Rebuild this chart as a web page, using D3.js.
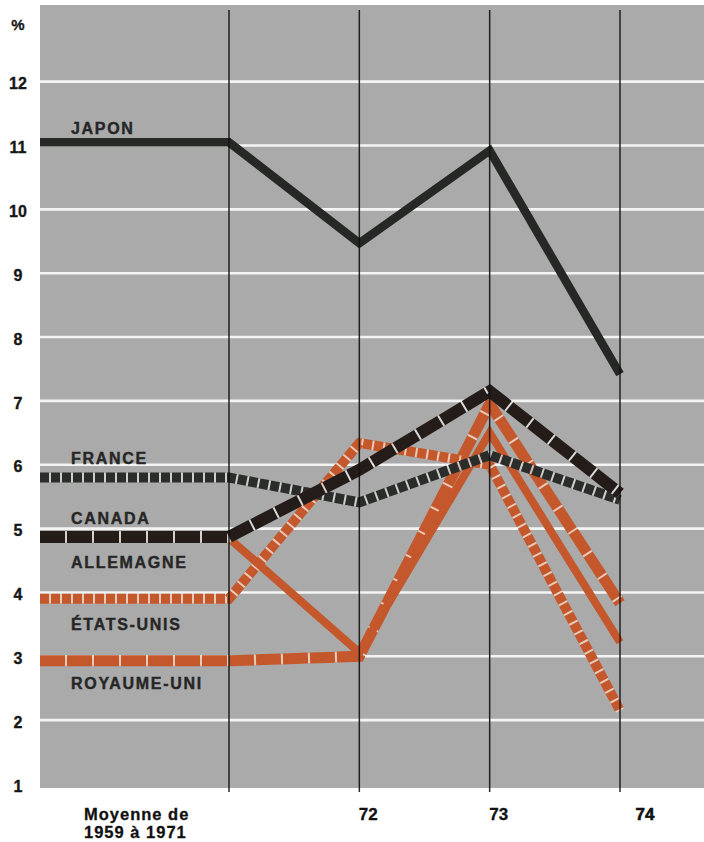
<!DOCTYPE html>
<html>
<head>
<meta charset="utf-8">
<script src="https://cdn.jsdelivr.net/npm/d3@7"></script>
<style>
  html, body { margin: 0; padding: 0; background: #ffffff; }
  svg { display: block; }
  text { font-family: "Liberation Sans", Arial, Helvetica, sans-serif; font-weight: bold; }
</style>
</head>
<body>
<svg id="chart" width="704" height="842"></svg>
<script>
// ---- data ----
const periods = ["Moyenne de 1959 à 1971", "72", "73", "74"];
const periodLines = [["Moyenne de", "1959 à 1971"], ["72"], ["73"], ["74"]];
const periodYears = [1971, 1972, 1973, 1974];
const yTicks = [1, 2, 3, 4, 5, 6, 7, 8, 9, 10, 11, 12];
const countries = ["JAPON", "FRANCE", "CANADA", "ALLEMAGNE", "ÉTATS-UNIS", "ROYAUME-UNI"];
const japon      = [11.05, 9.47, 10.92, 7.42];
const france     = [5.80, 5.41, 6.15, 5.45];
const canada     = [4.87, 5.92, 7.15, 5.55];
const allemagne  = [4.85, 3.06, 6.50, 3.22];
const etatsUnis  = [3.90, 6.34, 6.00, 2.15];
const royaumeUni = [2.93, 3.00, 6.95, 3.83];

// ---- styles ----
const ORANGE = "#c4572c", DARK = "#262826";
const styles = {
  "JAPON":       { color: DARK,      width: 8.5, dash: null,   under: null, labelDy: -14, order: 5 },
  "FRANCE":      { color: "#2b2d2b", width: 10, dash: "9,2",   under: "rgba(215,215,215,0.8)", labelDy: -19, order: 3 },
  "CANADA":      { color: "#241c18", width: 12, dash: "25,2",  under: "rgba(225,225,225,0.85)", labelDy: -19, order: 4 },
  "ALLEMAGNE":   { color: ORANGE,    width: 8,  dash: null,    under: null, labelDy: 24, order: 2 },
  "ÉTATS-UNIS":  { color: ORANGE,    width: 10, dash: "9,2",   under: "rgba(240,205,185,0.9)", labelDy: 25, order: 1 },
  "ROYAUME-UNI": { color: ORANGE,    width: 11, dash: "25,2",  under: "rgba(240,205,185,0.9)", labelDy: 22, order: 0 }
};
const seriesValues = { "JAPON": japon, "FRANCE": france, "CANADA": canada,
  "ALLEMAGNE": allemagne, "ÉTATS-UNIS": etatsUnis, "ROYAUME-UNI": royaumeUni };

// ---- scales ----
const svg = d3.select("#chart");
const x = d3.scaleLinear().domain([1971, 1974]).range([229, 620]);
const xLeft = x.invert(40), xRight = x.invert(704);
const y = d3.scaleLinear().domain([1, 13.2]).range([784, 5]);

// background
svg.append("rect")
  .attr("x", x(xLeft)).attr("y", y(13.2))
  .attr("width", x(xRight) - x(xLeft)).attr("height", y(1) - y(13.2) + 4)
  .attr("fill", "#a9aaa9");

// horizontal white gridlines
svg.append("g").selectAll("line")
  .data(yTicks.filter(d => d > 1))
  .join("line")
  .attr("x1", x(xLeft)).attr("x2", x(xRight))
  .attr("y1", d => y(d)).attr("y2", d => y(d))
  .attr("stroke", "#f4f4f4").attr("stroke-width", 2.6);

// y axis labels
const yAxis = d3.axisLeft(y).tickValues(yTicks).tickFormat(d3.format("d")).tickSize(0).tickPadding(0);
const yg = svg.append("g").attr("transform", "translate(18,2)").call(yAxis);
yg.select(".domain").remove();
yg.selectAll("text")
  .attr("text-anchor", "middle").attr("x", 0)
  .attr("font-size", 16).attr("fill", "#161616")
  .attr("stroke", "#161616").attr("stroke-width", 0.35)
  .attr("font-family", "'Liberation Sans', Arial, sans-serif").attr("font-weight", "bold");
svg.append("text").attr("x", 18).attr("y", 25).attr("dy", "0.35em")
  .attr("text-anchor", "middle").attr("font-size", 15).attr("fill", "#161616")
  .attr("stroke", "#161616").attr("stroke-width", 0.3).text("%");

// lines
const line = d3.line().x(d => x(d[0])).y(d => y(d[1])).curve(d3.curveLinear);
const drawOrder = countries.slice().sort((a, b) => styles[a].order - styles[b].order);
const lg = svg.append("g");
drawOrder.forEach(name => {
  const v = seriesValues[name];
  const pts = [[xLeft, v[0]]].concat(periodYears.map((p, i) => [p, v[i]]));
  const s = styles[name];
  if (s.under) {
    lg.append("path").attr("d", line(pts)).attr("fill", "none")
      .attr("stroke", s.under).attr("stroke-width", s.width - 1)
      .attr("stroke-linejoin", "miter");
  }
  lg.append("path").attr("d", line(pts)).attr("fill", "none")
    .attr("stroke", s.color).attr("stroke-width", s.width)
    .attr("stroke-linejoin", "miter").attr("stroke-miterlimit", 6)
    .attr("stroke-dasharray", s.dash);
});

// vertical black lines
svg.append("g").selectAll("line")
  .data(periodYears)
  .join("line")
  .attr("x1", d => x(d)).attr("x2", d => x(d))
  .attr("y1", 10).attr("y2", y(1) + 8)
  .attr("stroke", "#111").attr("stroke-width", 1.5).attr("opacity", 0.9);

// series labels
svg.append("g").selectAll("text")
  .data(countries)
  .join("text")
  .attr("x", x(xLeft) + 31)
  .attr("y", d => y(seriesValues[d][0]) + styles[d].labelDy)
  .attr("dy", "0.36em")
  .attr("font-size", 16).attr("letter-spacing", 1.7)
  .attr("fill", "#262626").attr("stroke", "#262626").attr("stroke-width", 0.4)
  .text(d => d);

// x labels
const xl = svg.append("g");
const labelShift = [0, 9, 9, 25];
periodLines.forEach((lines, i) => {
  lines.forEach((txt, j) => {
    const t = xl.append("text")
      .attr("y", 820 + j * 18)
      .attr("font-size", i === 0 ? 16.5 : 17).attr("fill", "#111")
      .attr("stroke", "#111").attr("stroke-width", i === 3 ? 0.6 : 0.3)
      .text(txt);
    if (i === 0) {
      t.attr("x", 84).attr("letter-spacing", 1.0);
    } else {
      t.attr("x", x(periodYears[i]) + labelShift[i]).attr("text-anchor", "middle");
    }
  });
});
</script>
</body>
</html>
